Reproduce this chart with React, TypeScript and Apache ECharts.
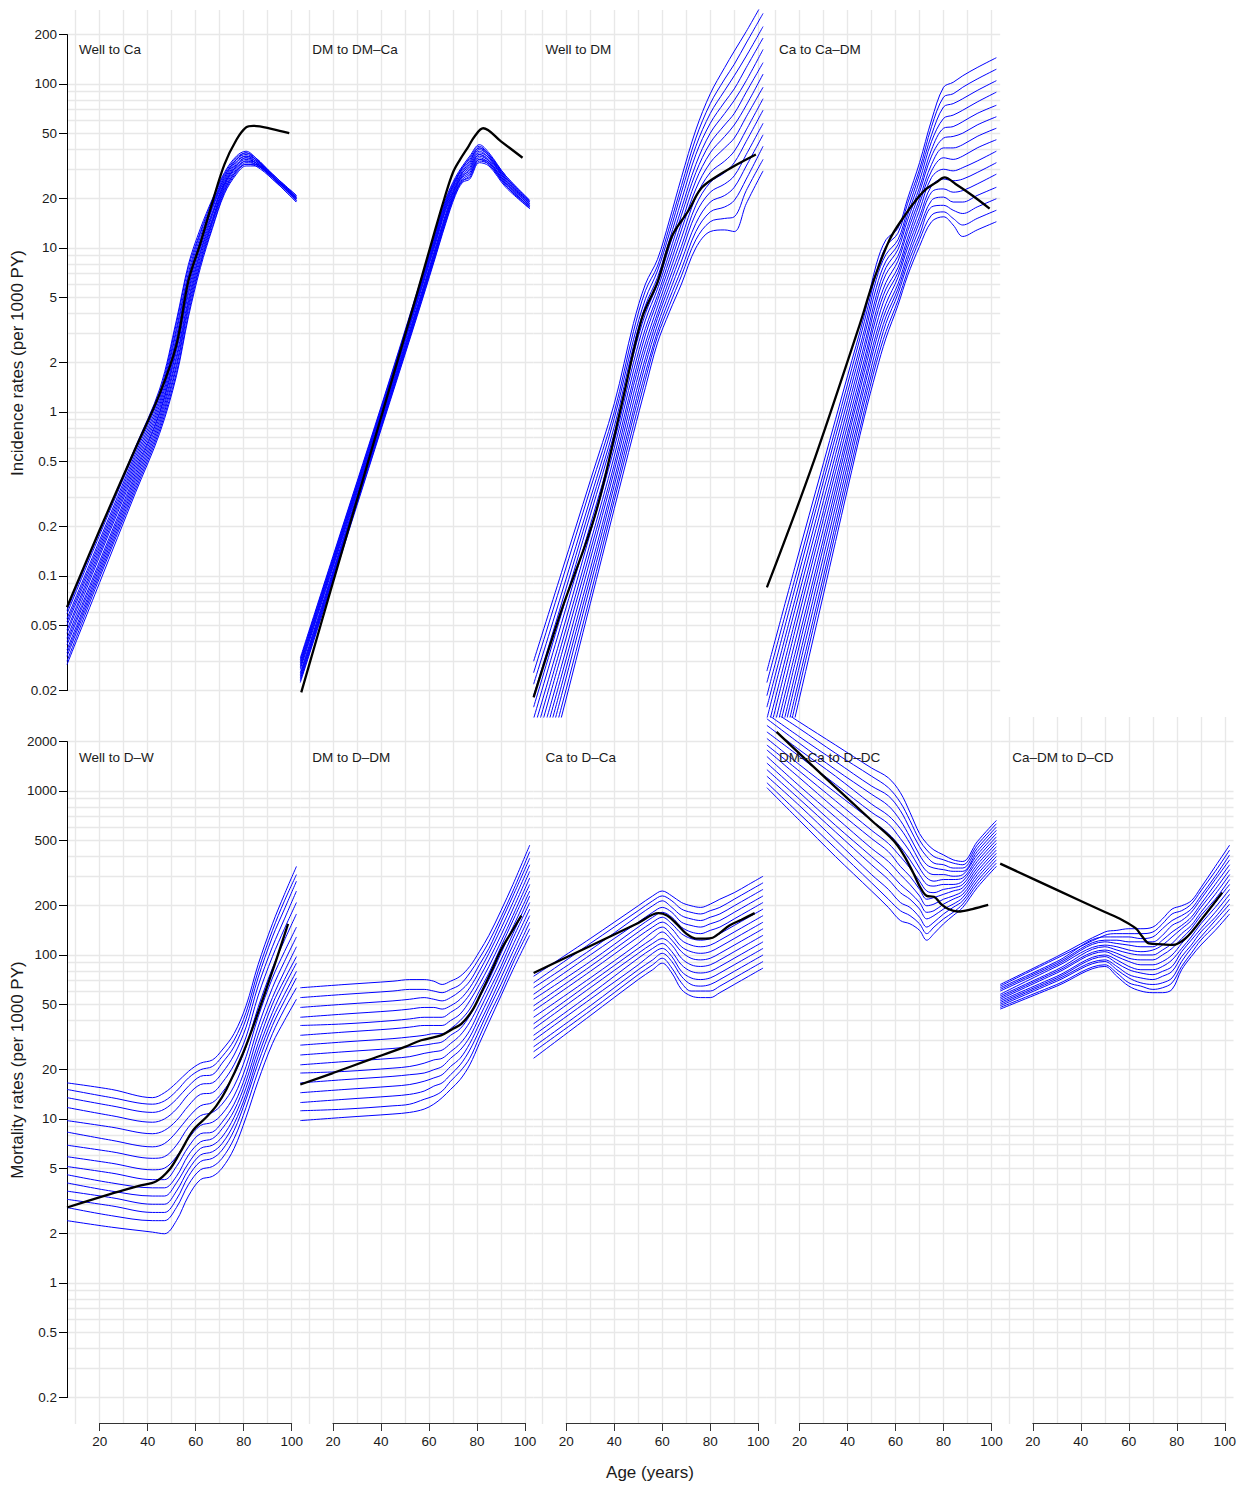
import React, { useEffect, useRef } from "react";
import * as echarts from "echarts";

// ================= DATA (rates per 1000 PY, stored as log10 values) =================
const panelTitles = [
  "Well to Ca", "DM to DM–Ca", "Well to DM", "Ca to Ca–DM",
  "Well to D–W", "DM to D–DM", "Ca to D–Ca", "DM–Ca to D–DC", "Ca–DM to D–CD",
];
const incidenceTicks = [0.02, 0.05, 0.1, 0.2, 0.5, 1, 2, 5, 10, 20, 50, 100, 200];
const mortalityTicks = [0.2, 0.5, 1, 2, 5, 10, 20, 50, 100, 200, 500, 1000, 2000];
const ageTicks = [20, 40, 60, 80, 100];
const ageGridLines = [10, 20, 30, 40, 50, 60, 70, 80, 90, 100];
const yTitles = ["Incidence rates (per 1000 PY)", "Mortality rates (per 1000 PY)"];
const xTitle = "Age (years)";

// ---- Well to Ca ----
const p1Ages = [6.4, 20, 35, 45, 52, 57, 62, 67, 72, 77, 81, 85, 92, 102];
const p1Blue = [
  [-1.21, -0.73, -0.21, 0.14, 0.56, 0.90, 1.12, 1.30, 1.46, 1.56, 1.59, 1.55, 1.45, 1.32],
  [-1.23, -0.75, -0.23, 0.12, 0.54, 0.88, 1.10, 1.29, 1.45, 1.55, 1.58, 1.55, 1.45, 1.32],
  [-1.26, -0.78, -0.25, 0.10, 0.51, 0.85, 1.09, 1.27, 1.44, 1.54, 1.58, 1.54, 1.45, 1.31],
  [-1.28, -0.80, -0.27, 0.08, 0.49, 0.83, 1.07, 1.26, 1.43, 1.54, 1.57, 1.54, 1.44, 1.31],
  [-1.30, -0.82, -0.29, 0.06, 0.46, 0.81, 1.05, 1.25, 1.42, 1.53, 1.56, 1.54, 1.44, 1.31],
  [-1.33, -0.84, -0.31, 0.04, 0.44, 0.79, 1.03, 1.24, 1.41, 1.52, 1.56, 1.53, 1.44, 1.31],
  [-1.35, -0.86, -0.33, 0.02, 0.41, 0.76, 1.02, 1.22, 1.40, 1.51, 1.55, 1.53, 1.44, 1.30],
  [-1.38, -0.88, -0.35, 0.00, 0.39, 0.74, 1.00, 1.21, 1.39, 1.50, 1.55, 1.52, 1.44, 1.30],
  [-1.40, -0.91, -0.37, -0.01, 0.37, 0.72, 0.98, 1.20, 1.39, 1.50, 1.54, 1.52, 1.43, 1.30],
  [-1.42, -0.93, -0.39, -0.03, 0.34, 0.69, 0.97, 1.18, 1.38, 1.49, 1.53, 1.52, 1.43, 1.30],
  [-1.45, -0.95, -0.41, -0.05, 0.32, 0.67, 0.95, 1.17, 1.37, 1.48, 1.53, 1.51, 1.43, 1.29],
  [-1.47, -0.97, -0.43, -0.07, 0.29, 0.65, 0.93, 1.16, 1.36, 1.47, 1.52, 1.51, 1.43, 1.29],
  [-1.49, -0.99, -0.45, -0.09, 0.27, 0.63, 0.91, 1.15, 1.35, 1.47, 1.51, 1.51, 1.43, 1.29],
  [-1.52, -1.01, -0.47, -0.11, 0.24, 0.60, 0.90, 1.13, 1.34, 1.46, 1.51, 1.50, 1.42, 1.28],
  [-1.54, -1.04, -0.49, -0.13, 0.22, 0.58, 0.88, 1.12, 1.33, 1.45, 1.50, 1.50, 1.42, 1.28],
];
const p1BlackAges = [6.4, 20, 35, 45, 52, 57, 62, 67, 72, 77, 81, 84, 92, 99];
const p1Black = [-1.19, -0.72, -0.22, 0.11, 0.41, 0.80, 1.03, 1.28, 1.51, 1.66, 1.735, 1.745, 1.725, 1.70];

// ---- DM to DM–Ca ----
const p2Ages = [6.4, 20, 40, 55, 62, 67, 71, 74, 77, 81, 85, 92, 102];
const p2Blue = [
  [-1.50, -0.88, 0.03, 0.73, 1.06, 1.30, 1.43, 1.50, 1.56, 1.63, 1.58, 1.44, 1.29],
  [-1.51, -0.89, 0.02, 0.72, 1.05, 1.29, 1.42, 1.49, 1.55, 1.62, 1.57, 1.44, 1.29],
  [-1.52, -0.90, 0.01, 0.71, 1.04, 1.28, 1.41, 1.49, 1.54, 1.61, 1.57, 1.43, 1.28],
  [-1.53, -0.91, 0.00, 0.70, 1.03, 1.27, 1.41, 1.48, 1.53, 1.61, 1.56, 1.43, 1.28],
  [-1.54, -0.92, -0.01, 0.69, 1.02, 1.26, 1.40, 1.47, 1.52, 1.60, 1.56, 1.42, 1.28],
  [-1.55, -0.93, -0.02, 0.68, 1.01, 1.25, 1.39, 1.46, 1.51, 1.59, 1.55, 1.42, 1.27],
  [-1.56, -0.94, -0.03, 0.67, 1.00, 1.24, 1.38, 1.46, 1.50, 1.58, 1.55, 1.41, 1.27],
  [-1.57, -0.95, -0.04, 0.66, 0.99, 1.23, 1.37, 1.45, 1.49, 1.57, 1.54, 1.41, 1.26],
  [-1.59, -0.97, -0.05, 0.64, 0.97, 1.21, 1.37, 1.44, 1.48, 1.57, 1.53, 1.40, 1.26],
  [-1.60, -0.98, -0.06, 0.63, 0.96, 1.20, 1.36, 1.44, 1.47, 1.56, 1.53, 1.40, 1.26],
  [-1.61, -0.99, -0.07, 0.62, 0.95, 1.19, 1.35, 1.43, 1.46, 1.55, 1.52, 1.39, 1.25],
  [-1.62, -1.00, -0.08, 0.61, 0.94, 1.18, 1.34, 1.42, 1.45, 1.54, 1.52, 1.39, 1.25],
  [-1.63, -1.01, -0.09, 0.60, 0.93, 1.17, 1.34, 1.41, 1.44, 1.54, 1.51, 1.38, 1.25],
  [-1.64, -1.02, -0.10, 0.59, 0.92, 1.16, 1.33, 1.41, 1.43, 1.53, 1.51, 1.38, 1.24],
  [-1.65, -1.03, -0.11, 0.58, 0.91, 1.15, 1.32, 1.40, 1.42, 1.52, 1.50, 1.37, 1.24],
];
const p2BlackAges = [6.8, 20, 40.7, 55, 62, 66.4, 70, 73, 76.5, 79, 82.6, 90, 99];
const p2Black = [-1.71, -1.04, 0.0, 0.72, 1.08, 1.30, 1.46, 1.54, 1.62, 1.68, 1.73, 1.65, 1.55];

// ---- Well to DM ----
const p3Ages = [6.4, 18, 30, 40, 48, 53, 58, 63, 68, 74, 80, 86, 90, 95, 102];
const p3Blue = [
  [-1.52, -0.98, -0.42, 0.05, 0.54, 0.78, 0.93, 1.17, 1.43, 1.72, 1.94, 2.10, 2.20, 2.32, 2.50],
  [-1.59, -1.04, -0.47, 0.00, 0.49, 0.74, 0.89, 1.13, 1.38, 1.67, 1.88, 2.03, 2.12, 2.25, 2.43],
  [-1.66, -1.11, -0.53, -0.04, 0.44, 0.69, 0.86, 1.09, 1.34, 1.62, 1.82, 1.96, 2.05, 2.17, 2.35],
  [-1.73, -1.17, -0.58, -0.09, 0.40, 0.65, 0.82, 1.05, 1.29, 1.57, 1.76, 1.89, 1.97, 2.10, 2.28],
  [-1.80, -1.23, -0.63, -0.13, 0.35, 0.60, 0.78, 1.01, 1.24, 1.51, 1.70, 1.82, 1.90, 2.02, 2.21],
  [-1.87, -1.29, -0.69, -0.18, 0.30, 0.56, 0.75, 0.97, 1.20, 1.46, 1.64, 1.75, 1.82, 1.95, 2.13],
  [-1.94, -1.36, -0.74, -0.22, 0.25, 0.51, 0.71, 0.93, 1.15, 1.41, 1.58, 1.68, 1.75, 1.87, 2.06],
  [-2.01, -1.42, -0.80, -0.27, 0.20, 0.47, 0.68, 0.89, 1.11, 1.36, 1.52, 1.61, 1.67, 1.80, 1.98],
  [-2.08, -1.48, -0.85, -0.32, 0.16, 0.42, 0.64, 0.85, 1.06, 1.31, 1.46, 1.53, 1.59, 1.72, 1.91],
  [-2.15, -1.55, -0.90, -0.36, 0.11, 0.38, 0.60, 0.81, 1.01, 1.26, 1.40, 1.46, 1.52, 1.65, 1.84],
  [-2.22, -1.61, -0.96, -0.41, 0.06, 0.33, 0.57, 0.77, 0.97, 1.21, 1.34, 1.39, 1.44, 1.57, 1.76],
  [-2.29, -1.67, -1.01, -0.45, 0.01, 0.29, 0.53, 0.73, 0.92, 1.15, 1.28, 1.32, 1.37, 1.50, 1.69],
  [-2.36, -1.73, -1.06, -0.50, -0.03, 0.24, 0.49, 0.69, 0.87, 1.10, 1.22, 1.25, 1.29, 1.42, 1.62],
  [-2.43, -1.80, -1.12, -0.54, -0.08, 0.20, 0.46, 0.65, 0.83, 1.05, 1.16, 1.18, 1.19, 1.35, 1.54],
  [-2.50, -1.86, -1.17, -0.59, -0.13, 0.15, 0.42, 0.61, 0.78, 1.00, 1.10, 1.11, 1.10, 1.27, 1.47],
];
const p3BlackAges = [6.4, 18, 32, 43, 51.5, 58, 64, 71, 76, 82, 90, 99];
const p3Black = [-1.74, -1.21, -0.63, 0.04, 0.57, 0.79, 1.07, 1.23, 1.36, 1.43, 1.50, 1.57];

// ---- Ca to Ca–DM ----
const p4Ages = [6.4, 18, 30, 40, 47, 52, 56, 61, 65, 70, 75, 80, 84, 88, 94, 102];
const p4Blue = [
  [-1.58, -0.95, -0.31, 0.22, 0.59, 0.90, 1.05, 1.12, 1.30, 1.52, 1.78, 1.98, 2.01, 2.05, 2.10, 2.16],
  [-1.65, -1.02, -0.37, 0.17, 0.55, 0.85, 1.01, 1.09, 1.27, 1.48, 1.74, 1.92, 1.94, 1.98, 2.03, 2.09],
  [-1.73, -1.08, -0.42, 0.12, 0.50, 0.81, 0.96, 1.05, 1.23, 1.45, 1.69, 1.86, 1.88, 1.91, 1.96, 2.02],
  [-1.80, -1.15, -0.48, 0.07, 0.46, 0.76, 0.92, 1.02, 1.20, 1.41, 1.65, 1.79, 1.81, 1.84, 1.89, 1.95],
  [-1.87, -1.21, -0.54, 0.02, 0.41, 0.71, 0.88, 0.99, 1.17, 1.37, 1.60, 1.73, 1.74, 1.77, 1.82, 1.87],
  [-1.95, -1.28, -0.60, -0.03, 0.37, 0.67, 0.84, 0.95, 1.13, 1.34, 1.56, 1.67, 1.68, 1.70, 1.75, 1.80],
  [-2.02, -1.34, -0.65, -0.08, 0.32, 0.62, 0.79, 0.92, 1.10, 1.30, 1.51, 1.61, 1.61, 1.63, 1.68, 1.73],
  [-2.10, -1.41, -0.71, -0.13, 0.28, 0.58, 0.75, 0.88, 1.06, 1.27, 1.47, 1.55, 1.54, 1.56, 1.61, 1.66],
  [-2.17, -1.48, -0.77, -0.17, 0.24, 0.53, 0.71, 0.85, 1.03, 1.23, 1.43, 1.48, 1.47, 1.49, 1.53, 1.59],
  [-2.24, -1.54, -0.82, -0.22, 0.19, 0.48, 0.66, 0.82, 1.00, 1.19, 1.38, 1.42, 1.41, 1.42, 1.46, 1.52],
  [-2.32, -1.61, -0.88, -0.27, 0.15, 0.44, 0.62, 0.78, 0.96, 1.16, 1.34, 1.36, 1.34, 1.35, 1.39, 1.45],
  [-2.39, -1.67, -0.94, -0.32, 0.10, 0.39, 0.58, 0.75, 0.93, 1.12, 1.29, 1.31, 1.28, 1.28, 1.32, 1.37],
  [-2.46, -1.74, -1.00, -0.37, 0.06, 0.34, 0.54, 0.72, 0.90, 1.08, 1.25, 1.26, 1.23, 1.21, 1.25, 1.30],
  [-2.54, -1.80, -1.05, -0.42, 0.01, 0.30, 0.49, 0.68, 0.86, 1.05, 1.20, 1.22, 1.18, 1.14, 1.18, 1.23],
  [-2.61, -1.87, -1.11, -0.47, -0.03, 0.25, 0.45, 0.65, 0.83, 1.01, 1.16, 1.19, 1.14, 1.07, 1.11, 1.16],
];
const p4BlackAges = [6.4, 25, 45, 50.6, 57.5, 64.4, 69, 72.8, 77, 80.4, 85, 92, 99.2];
const p4Black = [-1.07, -0.34, 0.53, 0.79, 1.05, 1.21, 1.30, 1.36, 1.40, 1.43, 1.39, 1.32, 1.24];

// ---- Well to D–W ----
const p5Ages = [6.4, 25, 42, 47, 52, 57, 62, 67, 71, 76, 81, 86, 92, 97, 102];
const p5Blue = [
  [1.22, 1.18, 1.13, 1.16, 1.22, 1.29, 1.34, 1.36, 1.42, 1.52, 1.69, 1.94, 2.19, 2.37, 2.54],
  [1.18, 1.13, 1.09, 1.11, 1.17, 1.25, 1.30, 1.32, 1.38, 1.48, 1.65, 1.90, 2.15, 2.33, 2.49],
  [1.13, 1.08, 1.04, 1.06, 1.12, 1.20, 1.26, 1.27, 1.34, 1.44, 1.61, 1.86, 2.11, 2.28, 2.45],
  [1.07, 1.02, 0.98, 1.00, 1.06, 1.15, 1.21, 1.22, 1.28, 1.39, 1.56, 1.81, 2.05, 2.22, 2.39],
  [0.99, 0.95, 0.91, 0.93, 0.99, 1.08, 1.15, 1.16, 1.22, 1.33, 1.50, 1.75, 1.99, 2.16, 2.32],
  [0.92, 0.87, 0.83, 0.85, 0.92, 1.01, 1.08, 1.10, 1.16, 1.27, 1.44, 1.68, 1.92, 2.09, 2.25],
  [0.84, 0.80, 0.76, 0.77, 0.84, 0.95, 1.02, 1.04, 1.09, 1.20, 1.38, 1.62, 1.86, 2.02, 2.17],
  [0.77, 0.73, 0.69, 0.70, 0.77, 0.88, 0.96, 0.98, 1.03, 1.14, 1.32, 1.56, 1.80, 1.96, 2.11],
  [0.71, 0.67, 0.63, 0.63, 0.71, 0.83, 0.91, 0.92, 0.98, 1.09, 1.27, 1.51, 1.74, 1.90, 2.05],
  [0.66, 0.61, 0.58, 0.58, 0.65, 0.78, 0.86, 0.88, 0.94, 1.05, 1.23, 1.46, 1.70, 1.85, 1.99],
  [0.61, 0.56, 0.53, 0.53, 0.61, 0.73, 0.82, 0.84, 0.89, 1.01, 1.19, 1.42, 1.65, 1.81, 1.95],
  [0.56, 0.52, 0.48, 0.48, 0.56, 0.69, 0.78, 0.80, 0.85, 0.97, 1.15, 1.38, 1.61, 1.76, 1.90],
  [0.51, 0.47, 0.43, 0.43, 0.51, 0.65, 0.74, 0.76, 0.81, 0.93, 1.12, 1.34, 1.57, 1.72, 1.86],
  [0.46, 0.41, 0.38, 0.38, 0.46, 0.60, 0.69, 0.71, 0.76, 0.88, 1.07, 1.29, 1.52, 1.67, 1.80],
  [0.38, 0.34, 0.31, 0.30, 0.38, 0.53, 0.63, 0.65, 0.70, 0.82, 1.01, 1.23, 1.46, 1.60, 1.73],
];
const p5BlackAges = [6.4, 24, 36, 43.6, 49, 53.3, 58.9, 64.4, 68.6, 72.8, 79.7, 85.3, 92.2, 98.5];
const p5Black = [0.46, 0.54, 0.59, 0.62, 0.69, 0.79, 0.93, 1.01, 1.08, 1.18, 1.40, 1.62, 1.91, 2.19];

// ---- DM to D–DM ----
const p6Ages = [6.4, 25, 45, 52, 58, 62, 65.5, 69, 73, 77, 81, 85, 90, 95, 102];
const p6Blue = [
  [1.80, 1.82, 1.84, 1.85, 1.85, 1.84, 1.82, 1.84, 1.87, 1.93, 2.02, 2.12, 2.27, 2.43, 2.67],
  [1.74, 1.76, 1.78, 1.79, 1.79, 1.78, 1.77, 1.79, 1.82, 1.89, 1.98, 2.08, 2.23, 2.39, 2.63],
  [1.68, 1.70, 1.72, 1.73, 1.74, 1.73, 1.72, 1.74, 1.78, 1.84, 1.94, 2.04, 2.20, 2.36, 2.59],
  [1.62, 1.64, 1.66, 1.67, 1.68, 1.68, 1.67, 1.69, 1.73, 1.80, 1.90, 2.01, 2.16, 2.32, 2.55],
  [1.57, 1.58, 1.60, 1.61, 1.62, 1.62, 1.62, 1.65, 1.69, 1.76, 1.86, 1.97, 2.12, 2.28, 2.51],
  [1.51, 1.53, 1.55, 1.56, 1.57, 1.57, 1.57, 1.60, 1.64, 1.72, 1.82, 1.93, 2.08, 2.24, 2.47],
  [1.45, 1.47, 1.49, 1.50, 1.51, 1.52, 1.52, 1.55, 1.60, 1.67, 1.78, 1.89, 2.05, 2.21, 2.43],
  [1.39, 1.41, 1.43, 1.44, 1.45, 1.46, 1.47, 1.51, 1.55, 1.63, 1.74, 1.85, 2.01, 2.17, 2.39],
  [1.33, 1.35, 1.37, 1.38, 1.40, 1.41, 1.42, 1.46, 1.51, 1.59, 1.70, 1.82, 1.97, 2.13, 2.36],
  [1.28, 1.29, 1.31, 1.32, 1.34, 1.36, 1.37, 1.41, 1.46, 1.54, 1.66, 1.78, 1.93, 2.10, 2.32],
  [1.22, 1.24, 1.26, 1.27, 1.28, 1.30, 1.32, 1.37, 1.42, 1.50, 1.62, 1.74, 1.90, 2.06, 2.28],
  [1.16, 1.18, 1.20, 1.21, 1.23, 1.25, 1.27, 1.32, 1.37, 1.46, 1.58, 1.70, 1.86, 2.02, 2.24],
  [1.10, 1.12, 1.14, 1.15, 1.17, 1.20, 1.22, 1.27, 1.33, 1.42, 1.54, 1.67, 1.82, 1.98, 2.20],
  [1.05, 1.06, 1.08, 1.09, 1.12, 1.14, 1.17, 1.23, 1.29, 1.37, 1.50, 1.63, 1.78, 1.95, 2.16],
  [0.99, 1.01, 1.03, 1.04, 1.06, 1.09, 1.13, 1.18, 1.24, 1.33, 1.46, 1.59, 1.75, 1.91, 2.12],
];
const p6BlackAges = [6.4, 20, 35, 50, 56.8, 65, 70, 73.5, 78, 81.8, 86, 90, 94, 98.5];
const p6Black = [1.21, 1.28, 1.36, 1.44, 1.48, 1.51, 1.55, 1.58, 1.66, 1.77, 1.90, 2.03, 2.13, 2.24];

// ---- Ca to D–Ca ----
const p7Ages = [6.4, 30, 50, 56, 60, 64, 68, 72, 76, 80, 84, 90, 96, 102];
const p7Blue = [
  [1.87, 2.10, 2.30, 2.36, 2.39, 2.36, 2.32, 2.30, 2.29, 2.31, 2.34, 2.38, 2.43, 2.48],
  [1.83, 2.07, 2.27, 2.33, 2.36, 2.33, 2.28, 2.26, 2.25, 2.27, 2.29, 2.34, 2.39, 2.44],
  [1.80, 2.03, 2.24, 2.30, 2.33, 2.29, 2.24, 2.22, 2.21, 2.23, 2.25, 2.30, 2.35, 2.40],
  [1.76, 2.00, 2.20, 2.26, 2.29, 2.26, 2.20, 2.18, 2.17, 2.19, 2.21, 2.26, 2.31, 2.36],
  [1.73, 1.96, 2.17, 2.23, 2.26, 2.23, 2.17, 2.14, 2.13, 2.15, 2.17, 2.22, 2.27, 2.32],
  [1.69, 1.93, 2.14, 2.20, 2.23, 2.19, 2.13, 2.10, 2.09, 2.10, 2.13, 2.18, 2.23, 2.28],
  [1.66, 1.90, 2.11, 2.17, 2.20, 2.16, 2.09, 2.06, 2.05, 2.06, 2.09, 2.14, 2.19, 2.24],
  [1.62, 1.86, 2.07, 2.14, 2.17, 2.12, 2.05, 2.02, 2.01, 2.02, 2.05, 2.10, 2.15, 2.20],
  [1.58, 1.83, 2.04, 2.10, 2.14, 2.09, 2.02, 1.98, 1.97, 1.98, 2.01, 2.06, 2.11, 2.16],
  [1.55, 1.80, 2.01, 2.07, 2.10, 2.06, 1.98, 1.94, 1.93, 1.94, 1.97, 2.02, 2.07, 2.12],
  [1.51, 1.76, 1.98, 2.04, 2.07, 2.02, 1.94, 1.90, 1.89, 1.90, 1.93, 1.98, 2.03, 2.08],
  [1.48, 1.73, 1.94, 2.01, 2.04, 1.99, 1.90, 1.86, 1.85, 1.86, 1.89, 1.94, 1.99, 2.04],
  [1.44, 1.69, 1.91, 1.97, 2.01, 1.96, 1.87, 1.82, 1.81, 1.82, 1.85, 1.90, 1.95, 2.00],
  [1.41, 1.66, 1.88, 1.94, 1.98, 1.92, 1.83, 1.78, 1.78, 1.78, 1.81, 1.86, 1.91, 1.96],
  [1.37, 1.63, 1.85, 1.91, 1.95, 1.89, 1.79, 1.75, 1.74, 1.74, 1.77, 1.82, 1.87, 1.92],
];
const p7BlackAges = [6.4, 30, 50, 58.5, 62, 66, 70, 74, 78, 81, 84, 88, 93, 98.5];
const p7Black = [1.89, 2.055, 2.195, 2.255, 2.24, 2.19, 2.13, 2.10, 2.10, 2.105, 2.135, 2.18, 2.215, 2.255];

// ---- DM–Ca to D–DC ----
const p8Ages = [6.4, 20, 35, 50, 57, 62, 66, 70, 73, 76, 80, 84, 88, 94, 102];
const p8Blue = [
  [3.55, 3.42, 3.28, 3.14, 3.08, 2.99, 2.87, 2.74, 2.68, 2.64, 2.61, 2.58, 2.57, 2.69, 2.82],
  [3.51, 3.38, 3.23, 3.09, 3.02, 2.93, 2.82, 2.70, 2.64, 2.60, 2.58, 2.56, 2.55, 2.67, 2.80],
  [3.47, 3.33, 3.18, 3.03, 2.97, 2.88, 2.77, 2.66, 2.60, 2.56, 2.55, 2.53, 2.53, 2.65, 2.78],
  [3.44, 3.29, 3.13, 2.98, 2.91, 2.82, 2.72, 2.61, 2.55, 2.53, 2.52, 2.51, 2.51, 2.63, 2.76],
  [3.40, 3.25, 3.09, 2.92, 2.85, 2.77, 2.68, 2.57, 2.51, 2.49, 2.49, 2.48, 2.49, 2.61, 2.74],
  [3.36, 3.21, 3.04, 2.87, 2.80, 2.71, 2.63, 2.53, 2.47, 2.45, 2.46, 2.46, 2.47, 2.59, 2.72],
  [3.32, 3.16, 2.99, 2.82, 2.74, 2.66, 2.58, 2.49, 2.43, 2.42, 2.43, 2.43, 2.45, 2.57, 2.70],
  [3.28, 3.12, 2.94, 2.76, 2.68, 2.60, 2.53, 2.45, 2.39, 2.38, 2.40, 2.41, 2.43, 2.55, 2.68],
  [3.25, 3.08, 2.89, 2.71, 2.63, 2.54, 2.48, 2.40, 2.34, 2.35, 2.37, 2.39, 2.41, 2.53, 2.66],
  [3.21, 3.03, 2.84, 2.65, 2.57, 2.49, 2.43, 2.36, 2.30, 2.31, 2.34, 2.36, 2.39, 2.51, 2.64],
  [3.17, 2.99, 2.79, 2.60, 2.51, 2.43, 2.38, 2.32, 2.26, 2.27, 2.31, 2.34, 2.37, 2.49, 2.62],
  [3.13, 2.95, 2.75, 2.55, 2.46, 2.38, 2.34, 2.28, 2.22, 2.24, 2.28, 2.31, 2.35, 2.47, 2.60],
  [3.09, 2.91, 2.70, 2.49, 2.40, 2.32, 2.29, 2.23, 2.17, 2.20, 2.25, 2.29, 2.33, 2.45, 2.58],
  [3.05, 2.86, 2.65, 2.44, 2.34, 2.27, 2.24, 2.19, 2.13, 2.17, 2.22, 2.26, 2.31, 2.43, 2.56],
  [3.02, 2.82, 2.60, 2.39, 2.29, 2.21, 2.19, 2.15, 2.09, 2.13, 2.19, 2.24, 2.29, 2.41, 2.54],
];
const p8BlackAges = [10.4, 30, 50, 59, 63, 67.4, 70, 73, 76, 79, 82, 86, 92, 98.6];
const p8Black = [3.36, 3.09, 2.82, 2.70, 2.62, 2.50, 2.42, 2.36, 2.355, 2.31, 2.28, 2.265, 2.28, 2.305];

// ---- Ca–DM to D–CD ----
const p9Ages = [6.4, 30, 50, 55, 60, 65, 70, 74, 78, 82, 86, 90, 96, 102];
const p9Blue = [
  [1.82, 1.99, 2.14, 2.15, 2.16, 2.16, 2.17, 2.22, 2.28, 2.30, 2.33, 2.41, 2.54, 2.67],
  [1.81, 1.98, 2.12, 2.13, 2.13, 2.13, 2.14, 2.19, 2.25, 2.27, 2.31, 2.39, 2.51, 2.64],
  [1.80, 1.96, 2.11, 2.11, 2.11, 2.10, 2.11, 2.16, 2.21, 2.24, 2.28, 2.36, 2.48, 2.61],
  [1.79, 1.95, 2.09, 2.09, 2.08, 2.08, 2.08, 2.12, 2.18, 2.21, 2.26, 2.34, 2.46, 2.58],
  [1.78, 1.94, 2.08, 2.07, 2.06, 2.05, 2.05, 2.09, 2.14, 2.18, 2.23, 2.31, 2.43, 2.55],
  [1.76, 1.93, 2.06, 2.05, 2.03, 2.02, 2.03, 2.06, 2.11, 2.16, 2.21, 2.29, 2.40, 2.52],
  [1.75, 1.91, 2.05, 2.03, 2.01, 2.00, 2.00, 2.03, 2.07, 2.13, 2.18, 2.26, 2.37, 2.49],
  [1.74, 1.90, 2.03, 2.01, 1.98, 1.97, 1.97, 2.00, 2.04, 2.10, 2.16, 2.24, 2.34, 2.46],
  [1.73, 1.89, 2.02, 1.99, 1.96, 1.94, 1.94, 1.96, 2.00, 2.07, 2.14, 2.21, 2.32, 2.43],
  [1.72, 1.87, 2.00, 1.97, 1.93, 1.91, 1.91, 1.93, 1.97, 2.04, 2.11, 2.19, 2.29, 2.40],
  [1.71, 1.86, 1.99, 1.95, 1.91, 1.89, 1.88, 1.90, 1.93, 2.02, 2.09, 2.16, 2.26, 2.37],
  [1.70, 1.85, 1.97, 1.93, 1.88, 1.86, 1.85, 1.87, 1.90, 1.99, 2.06, 2.14, 2.23, 2.34],
  [1.69, 1.84, 1.96, 1.91, 1.86, 1.83, 1.82, 1.83, 1.86, 1.96, 2.04, 2.11, 2.21, 2.31],
  [1.68, 1.82, 1.94, 1.89, 1.83, 1.81, 1.79, 1.80, 1.83, 1.93, 2.01, 2.09, 2.18, 2.28],
  [1.67, 1.81, 1.93, 1.87, 1.81, 1.78, 1.77, 1.77, 1.79, 1.91, 1.99, 2.06, 2.15, 2.25],
];
const p9BlackAges = [6.4, 30, 50, 57.2, 62.8, 65.6, 68.3, 73.9, 78.1, 83.6, 90.6, 98.9];
const p9Black = [2.557, 2.397, 2.262, 2.213, 2.163, 2.112, 2.071, 2.065, 2.061, 2.101, 2.223, 2.38];

// ================= LAYOUT =================
const FONT = '"Liberation Sans", Arial, Helvetica, sans-serif';
const TEXT_C = "#1a1a1a";
const GRID_C = "#e8e8e8";
const COL_LEFT = 67;
const COL_W = 233.3;
const ROW_TOP = [10, 717];
const ROW_H = 707;
const X_MIN = 6.4;
const X_MAX = 103.6;
const PX_PER_YEAR = COL_W / (X_MAX - X_MIN);
const ROW_LOG = [
  [-1.86, 2.451],
  [-0.86, 3.451],
];

const panels = [
  { row: 0, col: 0, ages: p1Ages, blue: p1Blue, bAges: p1BlackAges, black: p1Black },
  { row: 0, col: 1, ages: p2Ages, blue: p2Blue, bAges: p2BlackAges, black: p2Black },
  { row: 0, col: 2, ages: p3Ages, blue: p3Blue, bAges: p3BlackAges, black: p3Black },
  { row: 0, col: 3, ages: p4Ages, blue: p4Blue, bAges: p4BlackAges, black: p4Black },
  { row: 1, col: 0, ages: p5Ages, blue: p5Blue, bAges: p5BlackAges, black: p5Black },
  { row: 1, col: 1, ages: p6Ages, blue: p6Blue, bAges: p6BlackAges, black: p6Black },
  { row: 1, col: 2, ages: p7Ages, blue: p7Blue, bAges: p7BlackAges, black: p7Black },
  { row: 1, col: 3, ages: p8Ages, blue: p8Blue, bAges: p8BlackAges, black: p8Black },
  { row: 1, col: 4, ages: p9Ages, blue: p9Blue, bAges: p9BlackAges, black: p9Black },
];

function logGridLines(lo: number, hi: number): number[] {
  const out: number[] = [];
  for (let k = Math.floor(lo) - 1; k <= Math.ceil(hi); k++) {
    for (let m = 1; m <= 9; m++) {
      const v = Math.log10(m) + k;
      if (v >= lo && v <= hi) out.push(v);
    }
  }
  return out;
}

function buildOption() {
  const grid: any[] = [];
  const xAxis: any[] = [];
  const yAxis: any[] = [];
  const series: any[] = [];
  const graphic: any[] = [];

  panels.forEach((p, i) => {
    const [lo, hi] = ROW_LOG[p.row];
    grid.push({ left: COL_LEFT + COL_W * p.col, top: ROW_TOP[p.row], width: COL_W, height: ROW_H });
    xAxis.push({
      gridIndex: i, type: "value", min: X_MIN, max: X_MAX,
      axisLine: { show: false, onZero: false },
      axisTick: { show: false, customValues: ageGridLines },
      axisLabel: { show: false },
      splitLine: { show: true, lineStyle: { color: GRID_C, width: 1.4 } },
    });
    yAxis.push({
      gridIndex: i, type: "value", min: lo, max: hi,
      axisLine: { show: false, onZero: false },
      axisTick: { show: false, customValues: logGridLines(lo, hi) },
      axisLabel: { show: false },
      splitLine: { show: true, lineStyle: { color: GRID_C, width: 1.4 } },
    });
    p.blue.forEach((rowVals) => {
      series.push({
        type: "line", xAxisIndex: i, yAxisIndex: i, silent: true, z: 2,
        data: p.ages.map((a, j) => [a, rowVals[j]]),
        symbol: "none", showSymbol: false, smooth: 0.35,
        lineStyle: { color: "#0000ff", width: 1 },
        emphasis: { disabled: true },
      });
    });
    series.push({
      type: "line", xAxisIndex: i, yAxisIndex: i, silent: true, z: 3,
      data: p.bAges.map((a, j) => [a, p.black[j]]),
      symbol: "none", showSymbol: false, smooth: 0.35,
      lineStyle: { color: "#000000", width: 2.3 },
      emphasis: { disabled: true },
    });
    graphic.push({
      type: "text", z: 10,
      x: COL_LEFT + 12 + COL_W * p.col, y: ROW_TOP[p.row] + (p.row === 0 ? 39.5 : 40),
      style: { text: panelTitles[i], font: `13.5px ${FONT}`, fill: TEXT_C, textAlign: "left", textVerticalAlign: "middle", align: "left", verticalAlign: "middle" },
    });
  });

  // left labelled y axes
  [incidenceTicks, mortalityTicks].forEach((ticks, r) => {
    const gi = grid.length;
    const logs = ticks.map((t) => Math.log10(t));
    const lo = logs[0];
    const hi = logs[logs.length - 1];
    const [rlo, rhi] = ROW_LOG[r];
    const pxPerDec = ROW_H / (rhi - rlo);
    grid.push({ left: COL_LEFT, top: ROW_TOP[r] + (rhi - hi) * pxPerDec, width: 1, height: (hi - lo) * pxPerDec });
    xAxis.push({ gridIndex: gi, type: "value", show: false, min: 0, max: 1 });
    yAxis.push({
      gridIndex: gi, type: "value", min: lo, max: hi, position: "left",
      axisLine: { show: true, onZero: false, lineStyle: { color: "#000", width: 1 } },
      axisTick: { show: true, length: 8, customValues: logs, lineStyle: { color: "#000", width: 1 } },
      axisLabel: {
        show: true, customValues: logs, margin: 10, fontSize: 13.5, fontFamily: FONT, color: TEXT_C,
        formatter: (v: number) => {
          const t = ticks.find((x) => Math.abs(Math.log10(x) - v) < 1e-6);
          return t === undefined ? "" : String(t);
        },
      },
      splitLine: { show: false },
    });
  });

  // bottom age axes
  for (let c = 0; c < 5; c++) {
    const gi = grid.length;
    grid.push({
      left: COL_LEFT + COL_W * c + (ageTicks[0] - X_MIN) * PX_PER_YEAR,
      top: ROW_TOP[1] + ROW_H - 2,
      width: (ageTicks[ageTicks.length - 1] - ageTicks[0]) * PX_PER_YEAR,
      height: 1,
    });
    xAxis.push({
      gridIndex: gi, type: "value", min: ageTicks[0], max: ageTicks[ageTicks.length - 1], interval: 20, position: "bottom",
      axisLine: { show: true, onZero: false, lineStyle: { color: "#333", width: 1 } },
      axisTick: { show: true, length: 8, lineStyle: { color: "#333", width: 1 } },
      axisLabel: { show: true, margin: 11, fontSize: 13.5, fontFamily: FONT, color: TEXT_C },
      splitLine: { show: false },
    });
    yAxis.push({ gridIndex: gi, type: "value", show: false, min: 0, max: 1 });
  }

  graphic.push({
    type: "text", z: 10, x: 650, y: 1472,
    style: { text: xTitle, font: `17px ${FONT}`, fill: TEXT_C, textAlign: "center", textVerticalAlign: "middle", align: "center", verticalAlign: "middle" },
  });
  [363, 1070].forEach((cy, r) => {
    graphic.push({
      type: "text", z: 10, x: 17, y: cy, rotation: Math.PI / 2,
      style: { text: yTitles[r], font: `17px ${FONT}`, fill: TEXT_C, textAlign: "center", textVerticalAlign: "middle", align: "center", verticalAlign: "middle" },
    });
  });

  return { animation: false, backgroundColor: "#ffffff", grid, xAxis, yAxis, series, graphic };
}

export default function App() {
  const ref = useRef<HTMLDivElement>(null);
  useEffect(() => {
    if (!ref.current) return;
    const chart = echarts.init(ref.current, undefined, { renderer: "svg" });
    chart.setOption(buildOption() as any);
    return () => chart.dispose();
  }, []);
  return (
    <div
      ref={ref}
      style={{ position: "fixed", left: 0, top: 0, width: 1248, height: 1486, background: "#fff" }}
    />
  );
}
